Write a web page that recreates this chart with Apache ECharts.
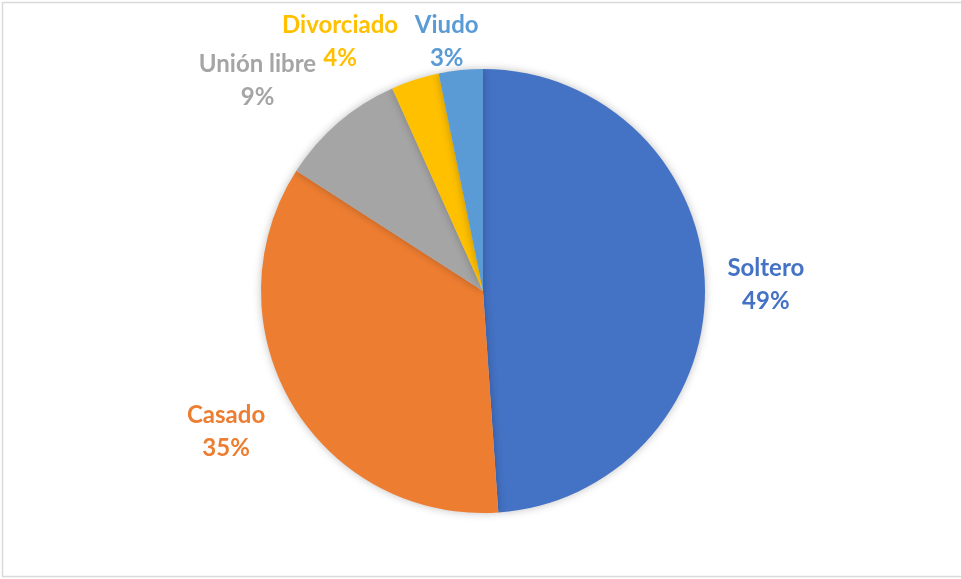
<!DOCTYPE html>
<html><head><meta charset="utf-8">
<script src="https://cdn.jsdelivr.net/npm/echarts@6/dist/echarts.min.js"></script>
<style>html,body{margin:0;padding:0;background:#fff}#c{width:961px;height:579px}</style>
</head><body><div id="c"></div>
<script>
const categories = ['Soltero', 'Casado', 'Unión libre', 'Divorciado', 'Viudo'];
const values = [48.9, 35.2, 9.2, 3.5, 3.2];
const colors = ['#4472C4', '#ED7D31', '#A5A5A5', '#FFC000', '#5B9BD5'];
const labelOffsets = [[26, 2], [-35, 12], [-1, -96], [31, -67], [-6, 1]];

const chart = echarts.init(document.getElementById('c'));
chart.setOption({
  animation: false,
  graphic: [{
    type: 'rect', shape: { x: 2.5, y: 2.5, width: 970, height: 574 },
    style: { fill: 'none', stroke: '#D9D9D9', lineWidth: 1.5 }, silent: true, z: -1
  }],
  series: [{
    type: 'pie',
    center: [483, 291],
    radius: 222,
    startAngle: 90,
    clockwise: true,
    percentPrecision: 0,
    data: categories.map((c, i) => ({
      name: c, value: values[i],
      itemStyle: { color: colors[i] },
      label: { color: colors[i] }
    })),
    itemStyle: { borderWidth: 0, shadowBlur: 8, shadowColor: 'rgba(0,0,0,0.25)' },
    label: {
      show: true, position: 'outside', formatter: '{b}\n{d}%',
      fontFamily: 'Lato', fontWeight: 'bold', fontSize: 24, lineHeight: 33
    },
    labelLine: { show: false, length: 30, length2: 0 },
    labelLayout: function (p) {
      const o = labelOffsets[p.dataIndex];
      return { dx: o[0], dy: o[1], align: 'center', verticalAlign: 'middle' };
    }
  }]
});
</script></body></html>
